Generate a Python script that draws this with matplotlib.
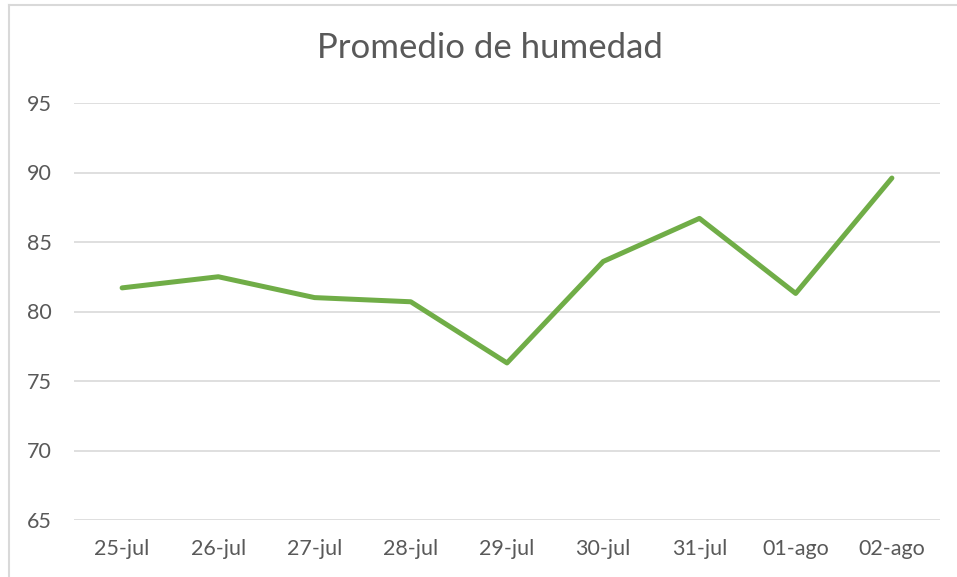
import matplotlib.pyplot as plt
from matplotlib.lines import Line2D

# dati
fechas = ['25-jul', '26-jul', '27-jul', '28-jul', '29-jul', '30-jul', '31-jul', '01-ago', '02-ago']
humedad = [81.7, 82.5, 81.0, 80.7, 76.3, 83.6, 86.7, 81.3, 89.6]
y_ticks = [65, 70, 75, 80, 85, 90, 95]

grigio_testo = '#595959'
grigio_griglia = '#D9D9D9'

plt.rcParams['font.family'] = ['Lato', 'DejaVu Sans']

fig = plt.figure(figsize=(9.57, 5.77), dpi=100)
ax = fig.add_axes([74 / 957, 1 - 520 / 577, (940 - 74) / 957, (520 - 103) / 577])

x = range(len(fechas))
ax.plot(x, humedad, color='#70AD47', linewidth=3.6,
        solid_capstyle='round', solid_joinstyle='round', zorder=3)

ax.set_xlim(-0.5, len(fechas) - 0.5)
ax.set_ylim(65, 95)
ax.set_yticks(y_ticks)
ax.set_xticks(list(x))
ax.set_xticklabels(fechas)

# griglia orizzontale stile Excel
ax.grid(axis='y', color=grigio_griglia, linewidth=1.2)
ax.set_axisbelow(True)
for s in ax.spines.values():
    s.set_visible(False)
ax.tick_params(axis='both', length=0, labelsize=15.5, labelcolor=grigio_testo)
ax.tick_params(axis='x', pad=14)
ax.tick_params(axis='y', pad=34)
for lab in ax.get_yticklabels():
    lab.set_horizontalalignment('left')

fig.text(490 / 957, 1 - 48 / 577, 'Promedio de humedad', ha='center', va='center',
         fontsize=25, color=grigio_testo)

# bordo del grafico
fig.add_artist(Line2D([9 / 957, 9 / 957], [0, 1 - 5 / 577], color=grigio_griglia,
                      linewidth=1.5, transform=fig.transFigure))
fig.add_artist(Line2D([9 / 957, 1], [1 - 5 / 577, 1 - 5 / 577], color=grigio_griglia,
                      linewidth=1.5, transform=fig.transFigure))

fig.savefig('out.png', dpi=100)
